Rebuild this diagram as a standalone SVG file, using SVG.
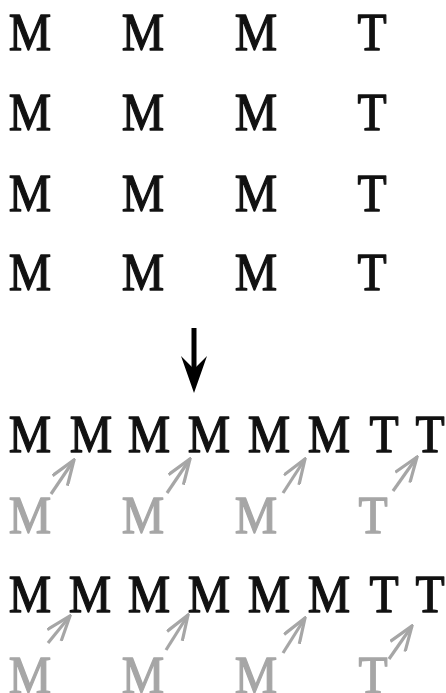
<svg xmlns="http://www.w3.org/2000/svg" width="446" height="693" viewBox="0 0 446 693">
  <defs>
    <style>
      .ch { font-family: "Liberation Serif", "Times New Roman", serif; font-size: 53px; text-anchor: middle; stroke-width: 1.3; stroke-linejoin: round; }
      .blk { fill: #111; stroke: #111; }
      .gry { fill: #a6a6a6; stroke: #a6a6a6; }
      .shift { stroke: #a6a6a6; stroke-width: 3.2; fill: none; stroke-linecap: butt; }
    </style>
    <marker id="openHead" viewBox="0 0 28 20" refX="26" refY="10" markerWidth="28" markerHeight="20" markerUnits="userSpaceOnUse" orient="auto">
      <path d="M1,1 L26,10 L1,19" fill="none" stroke="#a6a6a6" stroke-width="3.2" stroke-linejoin="miter"/>
    </marker>
  </defs>
  <rect width="446" height="693" fill="#fff"/>

  <!-- 4x4 grid of symbols (glyphs narrowed to 90% width) -->
  <g id="grid-row-1" class="ch blk" transform="scale(0.9,1)">
    <text x="33.3" y="50">M</text><text x="158.9" y="50">M</text><text x="284.4" y="50">M</text><text x="413.3" y="50">T</text>
  </g>
  <g id="grid-row-2" class="ch blk" transform="scale(0.9,1)">
    <text x="33.3" y="130">M</text><text x="158.9" y="130">M</text><text x="284.4" y="130">M</text><text x="413.3" y="130">T</text>
  </g>
  <g id="grid-row-3" class="ch blk" transform="scale(0.9,1)">
    <text x="33.3" y="211">M</text><text x="158.9" y="211">M</text><text x="284.4" y="211">M</text><text x="413.3" y="211">T</text>
  </g>
  <g id="grid-row-4" class="ch blk" transform="scale(0.9,1)">
    <text x="33.3" y="290">M</text><text x="158.9" y="290">M</text><text x="284.4" y="290">M</text><text x="413.3" y="290">T</text>
  </g>

  <!-- transform arrow -->
  <g id="down-arrow" fill="#000">
    <rect x="191.5" y="328" width="5" height="50"/>
    <path d="M194,393 L181,356 L194,369 L207,356 Z"/>
  </g>

  <!-- interleaved row A -->
  <g id="merged-row-a" class="ch blk" transform="scale(0.9,1)">
    <text x="33.3" y="452">M</text><text x="101.1" y="452">M</text><text x="165.6" y="452">M</text><text x="232.2" y="452">M</text>
    <text x="298.9" y="452">M</text><text x="365.6" y="452">M</text><text x="426.7" y="452">T</text><text x="477.8" y="452">T</text>
  </g>
  <g id="source-row-a" class="ch gry" transform="scale(0.9,1)">
    <text x="33.3" y="533">M</text><text x="158.9" y="533">M</text><text x="284.4" y="533">M</text><text x="414.4" y="533">T</text>
  </g>

  <!-- interleaved row B -->
  <g id="merged-row-b" class="ch blk" transform="scale(0.9,1)">
    <text x="33.3" y="612">M</text><text x="100" y="612">M</text><text x="165.6" y="612">M</text><text x="232.2" y="612">M</text>
    <text x="298.9" y="612">M</text><text x="365.6" y="612">M</text><text x="426.7" y="612">T</text><text x="477.8" y="612">T</text>
  </g>
  <g id="source-row-b" class="ch gry" transform="scale(0.9,1)">
    <text x="33.3" y="693">M</text><text x="158.9" y="693">M</text><text x="284.4" y="693">M</text><text x="414.4" y="693">T</text>
  </g>

  <!-- shift connectors -->
  <g id="connectors" class="shift" marker-end="url(#openHead)">
    <line x1="51" y1="494" x2="74" y2="460"/>
    <line x1="167" y1="493" x2="190" y2="459"/>
    <line x1="283" y1="493" x2="305" y2="459"/>
    <line x1="393" y1="491" x2="417" y2="457"/>
    <line x1="48" y1="643" x2="70" y2="616"/>
    <line x1="166" y1="650" x2="188" y2="615"/>
    <line x1="283" y1="653" x2="305" y2="618"/>
    <line x1="389" y1="659" x2="412" y2="626"/>
  </g>
</svg>
